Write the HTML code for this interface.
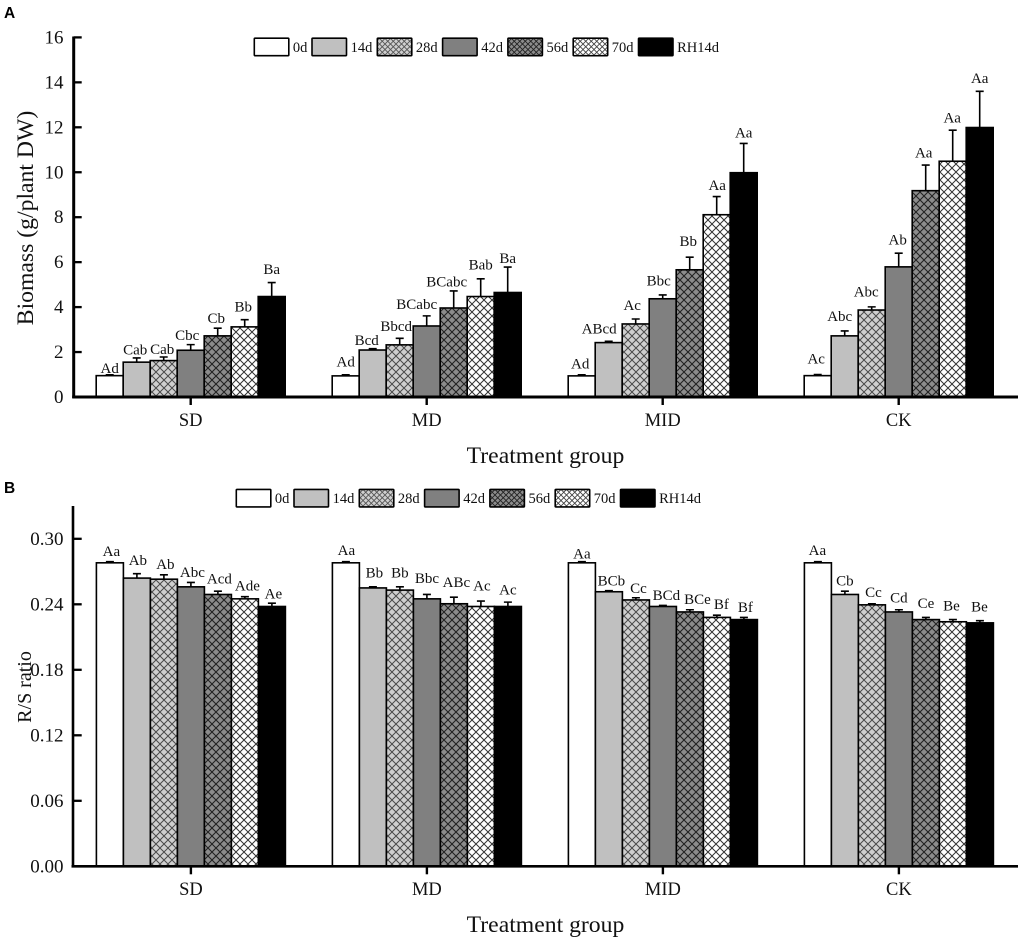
<!DOCTYPE html>
<html>
<head>
<meta charset="utf-8">
<title>Biomass and R/S ratio chart</title>
<style>
html,body{margin:0;padding:0;background:#fff;width:1021px;height:940px;overflow:hidden}
svg{display:block}
text{font-family:"Liberation Serif",serif;fill:#111}
.panel-letter{font-family:"Liberation Sans",sans-serif;font-weight:bold;font-size:15.5px;fill:#000}
</style>
</head>
<body>
<svg id="chart" xmlns="http://www.w3.org/2000/svg" width="1021" height="940" viewBox="0 0 1021 940">
<defs>
<pattern id="h28" width="8" height="8" patternUnits="userSpaceOnUse"><rect width="8" height="8" fill="#cfcfcf"/><path d="M0 0L8 8M8 0L0 8" stroke="#4a4a4a" stroke-width="1"/></pattern>
<pattern id="h56" width="8" height="8" patternUnits="userSpaceOnUse"><rect width="8" height="8" fill="#8c8c8c"/><path d="M0 0L8 8M8 0L0 8" stroke="#222" stroke-width="1.1"/></pattern>
<pattern id="h70" width="8" height="8" patternUnits="userSpaceOnUse"><rect width="8" height="8" fill="#fff"/><path d="M0 0L8 8M8 0L0 8" stroke="#333" stroke-width="1"/></pattern>
<pattern id="l28" width="5.5" height="5.5" patternUnits="userSpaceOnUse"><rect width="5.5" height="5.5" fill="#cfcfcf"/><path d="M0 0L5.5 5.5M5.5 0L0 5.5" stroke="#555" stroke-width=".9"/></pattern>
<pattern id="l56" width="5.5" height="5.5" patternUnits="userSpaceOnUse"><rect width="5.5" height="5.5" fill="#8c8c8c"/><path d="M0 0L5.5 5.5M5.5 0L0 5.5" stroke="#222" stroke-width=".9"/></pattern>
<pattern id="l70" width="5.5" height="5.5" patternUnits="userSpaceOnUse"><rect width="5.5" height="5.5" fill="#fff"/><path d="M0 0L5.5 5.5M5.5 0L0 5.5" stroke="#444" stroke-width=".9"/></pattern>
</defs>
</svg>
<script>
// ---- data ----
const categories = ["SD", "MD", "MID", "CK"];
const seriesNames = ["0d", "14d", "28d", "42d", "56d", "70d", "RH14d"];

const biomassSD  = [0.95, 1.55, 1.62, 2.08, 2.72, 3.12, 4.47];
const biomassMD  = [0.94, 2.09, 2.32, 3.16, 3.96, 4.47, 4.65];
const biomassMID = [0.94, 2.42, 3.25, 4.37, 5.66, 8.11, 9.98];
const biomassCK  = [0.95, 2.72, 3.87, 5.79, 9.18, 10.49, 11.99];

const biomassErrSD  = [0.04, 0.19, 0.16, 0.25, 0.34, 0.32, 0.62];
const biomassErrMD  = [0.05, 0.06, 0.29, 0.45, 0.76, 0.79, 1.13];
const biomassErrMID = [0.05, 0.06, 0.22, 0.17, 0.56, 0.81, 1.30];
const biomassErrCK  = [0.05, 0.22, 0.14, 0.61, 1.14, 1.38, 1.61];

const biomassLettersSD  = ["Ad", "Cab", "Cab", "Cbc", "Cb", "Bb", "Ba"];
const biomassLettersMD  = ["Ad", "Bcd", "Bbcd", "BCabc", "BCabc", "Bab", "Ba"];
const biomassLettersMID = ["Ad", "ABcd", "Ac", "Bbc", "Bb", "Aa", "Aa"];
const biomassLettersCK  = ["Ac", "Abc", "Abc", "Ab", "Aa", "Aa", "Aa"];

const ratioSD  = [0.278, 0.264, 0.263, 0.256, 0.249, 0.245, 0.238];
const ratioMD  = [0.278, 0.255, 0.253, 0.245, 0.2405, 0.238, 0.238];
const ratioMID = [0.278, 0.2515, 0.244, 0.238, 0.233, 0.228, 0.226];
const ratioCK  = [0.278, 0.249, 0.2395, 0.233, 0.226, 0.224, 0.223];

const ratioErrSD  = [0.001, 0.004, 0.004, 0.004, 0.003, 0.002, 0.003];
const ratioErrMD  = [0.001, 0.001, 0.003, 0.004, 0.006, 0.005, 0.004];
const ratioErrMID = [0.001, 0.001, 0.002, 0.001, 0.002, 0.002, 0.002];
const ratioErrCK  = [0.001, 0.003, 0.001, 0.002, 0.002, 0.002, 0.002];

const ratioLettersSD  = ["Aa", "Ab", "Ab", "Abc", "Acd", "Ade", "Ae"];
const ratioLettersMD  = ["Aa", "Bb", "Bb", "Bbc", "ABc", "Ac", "Ac"];
const ratioLettersMID = ["Aa", "BCb", "Cc", "BCd", "BCe", "Bf", "Bf"];
const ratioLettersCK  = ["Aa", "Cb", "Cc", "Cd", "Ce", "Be", "Be"];

const biomassTickLabels = ["0", "2", "4", "6", "8", "10", "12", "14", "16"];
const ratioTickLabels = ["0.00", "0.06", "0.12", "0.18", "0.24", "0.30"];

// ---- hand-placed annotation offsets, relative to each error-bar cap ----
const nudgeA = [
  [0,-1.5,-1.5,-3.5,-1.5,-1.5,0], [0,-6,-3.5,-10,-7,0,0], [-1.5,-9.5,-3.5,-4,-1.5,0.5,0], [-1.5,-5,-5.5,-1,-2,-0.5,0]
];
const liftA = [
  [1.5,3.5,3,4.5,5,8,8.5], [8,3.5,7.5,7,4.5,9.5,4], [6,8,9,9.5,11,6.5,6], [11,10,10.5,8.5,7.5,7.5,8.5]
];
const nudgeB = [
  [1.5,1,1.5,1.5,1.5,2.5,1.5], [0.5,1.5,0,0,2.5,1,0], [0,2.5,2.5,3.5,7.5,4.5,1.5], [-0.5,0,1.5,0,0,-1.5,-0.5]
];
const liftB = [
  [5.5,8.5,6,5.5,7.5,6,4.5], [6.5,9.5,9.5,11.5,10,10.5,7.5], [3,5,5,5.5,6,6,5.5], [6.5,5.5,7,7.5,9.5,9,9]
];

// ---- drawing ----
const NS = "http://www.w3.org/2000/svg";
const svg = document.getElementById("chart");
const barFills = ["#ffffff", "#c0c0c0", "url(#h28)", "#808080", "url(#h56)", "url(#h70)", "#000000"];
const legendFills = ["#ffffff", "#c0c0c0", "url(#l28)", "#808080", "url(#l56)", "url(#l70)", "#000000"];
const BAR_W = 27, GROUP_STEP = 236;

function make(parent, tag, attrs, txt) {
  const el = document.createElementNS(NS, tag);
  for (const k in attrs) el.setAttribute(k, attrs[k]);
  if (txt !== undefined) el.textContent = txt;
  parent.appendChild(el);
  return el;
}

function drawPanel(p) {
  const yScale = v => p.y0 - (v / p.unit) * p.unitPx;
  const groupLeft = g => p.left + g * GROUP_STEP;
  const barX = (g, i) => groupLeft(g) + i * BAR_W;

  const root = make(svg, "g", {});
  
  

  const letter = make(root, "text", {x: 4, y: p.letterY, class: "panel-letter"}, p.letter);
  
  

  categories.forEach((cat, g) => {
    const vals = p.values[g], errs = p.errors[g], letters = p.letters[g];
    seriesNames.forEach((s, i) => {
      const top = yScale(vals[i]), x = barX(g, i);
      const capY = yScale(vals[i] + errs[i]);
      const cx = x + BAR_W / 2;

      const err = make(root, "path", {
        d: "M" + cx + " " + top + "V" + capY + "M" + (cx - 4) + " " + capY + "H" + (cx + 4),
        stroke: "#000", "stroke-width": 1.6, fill: "none"
      });
      
      

      const bar = make(root, "rect", {
        x: x, y: top, width: BAR_W, height: p.y0 - top,
        fill: barFills[i], stroke: "#000", "stroke-width": 1.6
      });
      
      

      const lab = make(root, "text", {
        x: cx + p.nudge[g][i], y: capY - p.lift[g][i],
        "text-anchor": "middle", "font-size": 15
      }, letters[i]);
      
      
    });

    const tickX = groupLeft(g) + 94.5;
    const xt = make(root, "line", {x1: tickX, x2: tickX, y1: p.y0, y2: p.y0 + 8, stroke: "#000", "stroke-width": 2.4});
    
    

    const xl = make(root, "text", {x: tickX, y: p.catY, "text-anchor": "middle", "font-size": 18.5}, cat);
    
    
  });

  const xAxis = make(root, "line", {x1: p.axisX - 1.5, x2: 1018, y1: p.y0, y2: p.y0, stroke: "#000", "stroke-width": p.axisW});
  
  

  const yAxis = make(root, "line", {x1: p.axisX, x2: p.axisX, y1: p.axisTop, y2: p.y0 + 1, stroke: "#000", "stroke-width": p.axisW});
  
  

  p.ticks.forEach(label => {
    const y = yScale(Number(label));
    const t = make(root, "line", {x1: p.axisX, x2: 81.7, y1: y, y2: y, stroke: "#000", "stroke-width": 2.3});
    
    

    const tl = make(root, "text", {x: 63.5, y: y + 6, "text-anchor": "end", "font-size": 19}, label);
    
    
  });

  const yTitle = make(root, "text", {
    transform: "translate(" + p.yTitleX + " " + p.yTitleY + ") rotate(-90)",
    "text-anchor": "middle", "font-size": p.yTitleSize
  }, p.yTitle);
  
  

  const xTitle = make(root, "text", {x: 545.5, y: p.xTitleY, "text-anchor": "middle", "font-size": 23.7}, "Treatment group");
  
  

  seriesNames.forEach((s, i) => {
    const bx = p.legendX + (i === 0 ? 0 : 57.7 + (i - 1) * 65.3);
    const box = make(root, "rect", {
      x: bx, y: p.legendY, width: 34.5, height: 17.5, rx: 0.8,
      fill: legendFills[i], stroke: "#000", "stroke-width": 1.6
    });
    
    

    const lt = make(root, "text", {x: bx + 38.6, y: p.legendY + 13.6, "font-size": 14.5}, s);
    
    
  });
}

drawPanel({
  id: "biomass", letter: "A", letterY: 18,
  y0: 397, unit: 2, unitPx: 44.95, left: 96.2, axisX: 73.7, axisW: 3, axisTop: 36.5,
  catY: 426, xTitleY: 463, yTitle: "Biomass (g/plant DW)", yTitleX: 33, yTitleY: 218, yTitleSize: 23.7,
  legendX: 254.3, legendY: 38.2,
  ticks: biomassTickLabels,
  values: [biomassSD, biomassMD, biomassMID, biomassCK],
  errors: [biomassErrSD, biomassErrMD, biomassErrMID, biomassErrCK],
  letters: [biomassLettersSD, biomassLettersMD, biomassLettersMID, biomassLettersCK],
  nudge: nudgeA, lift: liftA
});

drawPanel({
  id: "ratio", letter: "B", letterY: 493,
  y0: 866.3, unit: 0.06, unitPx: 65.5, left: 96.4, axisX: 73, axisW: 2.6, axisTop: 506,
  catY: 895, xTitleY: 932, yTitle: "R/S ratio", yTitleX: 31, yTitleY: 687, yTitleSize: 20,
  legendX: 236.3, legendY: 489.4,
  ticks: ratioTickLabels,
  values: [ratioSD, ratioMD, ratioMID, ratioCK],
  errors: [ratioErrSD, ratioErrMD, ratioErrMID, ratioErrCK],
  letters: [ratioLettersSD, ratioLettersMD, ratioLettersMID, ratioLettersCK],
  nudge: nudgeB, lift: liftB
});
</script>
</body>
</html>
